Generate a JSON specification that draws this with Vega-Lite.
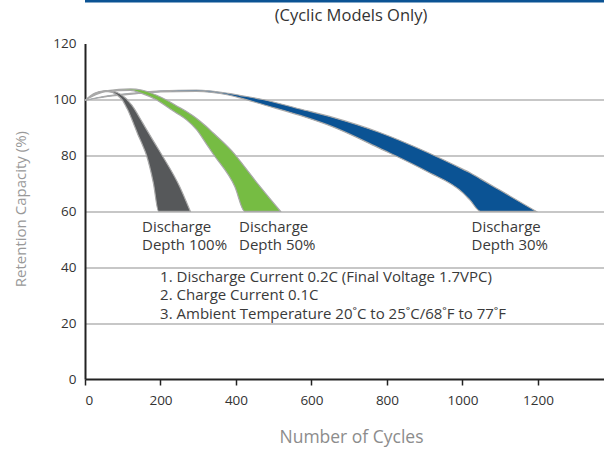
{
  "$schema": "https://vega.github.io/schema/vega-lite/v6.json",
  "width": 519,
  "height": 335.4,
  "autosize": {"type": "none"},
  "padding": {"left": 85, "top": 43.6, "right": 0, "bottom": 71},
  "config": {"font": "Open Sans", "view": {"stroke": null}},
  "title": {"text": "(Cyclic Models Only)", "fontSize": 16.5, "fontWeight": "normal", "color": "#333333", "dx": 6.5, "offset": -33, "baseline": "middle"},
  "datasets": {
    "bands": [
      {"series": "Depth 30%", "cycles": 0, "hi": 99.7, "lo": 99.7},
      {"series": "Depth 30%", "cycles": 60, "hi": 101.3, "lo": 101.1},
      {"series": "Depth 30%", "cycles": 137, "hi": 102.4, "lo": 102.1},
      {"series": "Depth 30%", "cycles": 200, "hi": 103.1, "lo": 102.7},
      {"series": "Depth 30%", "cycles": 295, "hi": 103.4, "lo": 102.9},
      {"series": "Depth 30%", "cycles": 380, "hi": 102.2, "lo": 101.6},
      {"series": "Depth 30%", "cycles": 410, "hi": 101.5, "lo": 100.6},
      {"series": "Depth 30%", "cycles": 471, "hi": 100.0, "lo": 98.2},
      {"series": "Depth 30%", "cycles": 570, "hi": 96.6, "lo": 94.3},
      {"series": "Depth 30%", "cycles": 657, "hi": 93.6, "lo": 90.2},
      {"series": "Depth 30%", "cycles": 781, "hi": 88.2, "lo": 82.5},
      {"series": "Depth 30%", "cycles": 905, "hi": 81.2, "lo": 74.3},
      {"series": "Depth 30%", "cycles": 1002, "hi": 75.0, "lo": 66.5},
      {"series": "Depth 30%", "cycles": 1020, "hi": 73.8, "lo": 64.0},
      {"series": "Depth 30%", "cycles": 1048, "hi": 71.6, "lo": 60},
      {"series": "Depth 30%", "cycles": 1100, "hi": 67.5, "lo": 60},
      {"series": "Depth 30%", "cycles": 1195, "hi": 60, "lo": 60},
      {"series": "Depth 50%", "cycles": 0, "hi": 99.7, "lo": 99.7},
      {"series": "Depth 50%", "cycles": 30, "hi": 102.0, "lo": 101.8},
      {"series": "Depth 50%", "cycles": 60, "hi": 103.2, "lo": 103.0},
      {"series": "Depth 50%", "cycles": 120, "hi": 103.8, "lo": 103.3},
      {"series": "Depth 50%", "cycles": 150, "hi": 103.4, "lo": 102.2},
      {"series": "Depth 50%", "cycles": 190, "hi": 101.5, "lo": 99.8},
      {"series": "Depth 50%", "cycles": 216, "hi": 99.8, "lo": 97.5},
      {"series": "Depth 50%", "cycles": 243, "hi": 97.7, "lo": 95.1},
      {"series": "Depth 50%", "cycles": 269, "hi": 95.7, "lo": 92.7},
      {"series": "Depth 50%", "cycles": 296, "hi": 93.2, "lo": 89.1},
      {"series": "Depth 50%", "cycles": 320, "hi": 90.5, "lo": 84.4},
      {"series": "Depth 50%", "cycles": 340, "hi": 88.0, "lo": 80.4},
      {"series": "Depth 50%", "cycles": 397, "hi": 80.4, "lo": 68.8},
      {"series": "Depth 50%", "cycles": 423, "hi": 75.9, "lo": 60},
      {"series": "Depth 50%", "cycles": 464, "hi": 68.8, "lo": 60},
      {"series": "Depth 50%", "cycles": 518, "hi": 60, "lo": 60},
      {"series": "Depth 100%", "cycles": 0, "hi": 99.7, "lo": 99.7},
      {"series": "Depth 100%", "cycles": 25, "hi": 102.2, "lo": 102.0},
      {"series": "Depth 100%", "cycles": 50, "hi": 103.1, "lo": 102.8},
      {"series": "Depth 100%", "cycles": 61, "hi": 103.2, "lo": 102.8},
      {"series": "Depth 100%", "cycles": 85, "hi": 102.5, "lo": 101.6},
      {"series": "Depth 100%", "cycles": 100, "hi": 101.3, "lo": 99.6},
      {"series": "Depth 100%", "cycles": 110, "hi": 100.2, "lo": 97.1},
      {"series": "Depth 100%", "cycles": 115, "hi": 99.4, "lo": 95.8},
      {"series": "Depth 100%", "cycles": 124, "hi": 98.0, "lo": 92.9},
      {"series": "Depth 100%", "cycles": 130, "hi": 96.8, "lo": 90.9},
      {"series": "Depth 100%", "cycles": 140, "hi": 94.6, "lo": 87.5},
      {"series": "Depth 100%", "cycles": 152, "hi": 91.8, "lo": 83.8},
      {"series": "Depth 100%", "cycles": 162, "hi": 89.5, "lo": 80.4},
      {"series": "Depth 100%", "cycles": 181, "hi": 85.2, "lo": 70.2},
      {"series": "Depth 100%", "cycles": 195, "hi": 82.1, "lo": 60},
      {"series": "Depth 100%", "cycles": 203, "hi": 80.3, "lo": 60},
      {"series": "Depth 100%", "cycles": 251, "hi": 68.8, "lo": 60},
      {"series": "Depth 100%", "cycles": 279, "hi": 60, "lo": 60}
    ],
    "labels": [
      {"text": "Discharge", "cycles": 151, "pct": 54.5},
      {"text": "Depth 100%", "cycles": 151, "pct": 47.9},
      {"text": "Discharge", "cycles": 408, "pct": 54.5},
      {"text": "Depth 50%", "cycles": 408, "pct": 47.9},
      {"text": "Discharge", "cycles": 1024, "pct": 54.5},
      {"text": "Depth 30%", "cycles": 1024, "pct": 47.9},
      {"text": "1. Discharge Current 0.2C (Final Voltage 1.7VPC)", "cycles": 199, "pct": 36.6},
      {"text": "2. Charge Current 0.1C", "cycles": 199, "pct": 30.0},
      {"text": "3. Ambient Temperature 20˚C to 25˚C/68˚F to 77˚F", "cycles": 199, "pct": 23.4}
    ]
  },
  "layer": [
    {
      "data": {"values": [{"edge": "top"}]},
      "mark": {"type": "rule", "color": "#0b5394", "strokeWidth": 3},
      "encoding": {
        "x": {"datum": 0, "type": "quantitative", "scale": {"domain": [0, 1375]}},
        "x2": {"datum": 1375},
        "y": {"datum": 135.2, "type": "quantitative", "scale": {"domain": [0, 120]}}
      }
    },
    {
      "data": {"name": "bands"},
      "transform": [{"filter": "datum.series == 'Depth 30%'"}],
      "mark": {"type": "area", "interpolate": "monotone", "fill": "#0b5394", "stroke": "#a9a9a9", "strokeWidth": 1.2},
      "encoding": {
        "x": {"field": "cycles", "type": "quantitative"},
        "y": {"field": "hi", "type": "quantitative"},
        "y2": {"field": "lo"}
      }
    },
    {
      "data": {"name": "bands"},
      "transform": [{"filter": "datum.series == 'Depth 50%'"}],
      "mark": {"type": "area", "interpolate": "monotone", "fill": "#76bc43", "stroke": "#a9a9a9", "strokeWidth": 1.2},
      "encoding": {
        "x": {"field": "cycles", "type": "quantitative"},
        "y": {"field": "hi", "type": "quantitative"},
        "y2": {"field": "lo"}
      }
    },
    {
      "data": {"name": "bands"},
      "transform": [{"filter": "datum.series == 'Depth 100%'"}],
      "mark": {"type": "area", "interpolate": "monotone", "fill": "#56585a", "stroke": "#a9a9a9", "strokeWidth": 1.2},
      "encoding": {
        "x": {"field": "cycles", "type": "quantitative"},
        "y": {"field": "hi", "type": "quantitative"},
        "y2": {"field": "lo"}
      }
    },
    {
      "data": {"name": "labels"},
      "mark": {"type": "text", "align": "left", "baseline": "middle", "fontSize": 15, "color": "#3a3a3a"},
      "encoding": {
        "x": {"field": "cycles", "type": "quantitative"},
        "y": {"field": "pct", "type": "quantitative"},
        "text": {"field": "text"}
      }
    }
  ],
  "encoding": {
    "x": {
      "type": "quantitative",
      "scale": {"domain": [0, 1375], "nice": false},
      "axis": {
        "title": "Number of Cycles",
        "values": [0, 200, 400, 600, 800, 1000, 1200],
        "format": "d",
        "grid": false,
        "domainColor": "#222222", "domainWidth": 2,
        "tickColor": "#222222", "tickWidth": 1.5, "tickSize": 6,
        "labelFontSize": 13.5, "labelColor": "#333333", "labelPadding": 8,
        "titleFontSize": 17.5, "titleFontWeight": "normal", "titleColor": "#8c8c8c",
        "titleX": 266, "titleY": 58, "titleBaseline": "middle"
      }
    },
    "y": {
      "type": "quantitative",
      "scale": {"domain": [0, 120], "nice": false},
      "axis": {
        "title": "Retention Capacity (%)",
        "values": [0, 20, 40, 60, 80, 100, 120],
        "grid": true,
        "gridColor": "#b5b5b5", "gridWidth": 1.5,
        "gridOpacity": {"condition": {"test": "datum.value >= 120 || datum.value <= 0", "value": 0}, "value": 1},
        "ticks": false,
        "domainColor": "#222222", "domainWidth": 2,
        "labelFontSize": 13.5, "labelColor": "#333333", "labelPadding": 9,
        "titleFontSize": 15, "titleFontWeight": "normal", "titleColor": "#999999",
        "titleX": -64.4, "titleY": 165, "titleBaseline": "middle", "titleAngle": 270
      }
    }
  }
}
